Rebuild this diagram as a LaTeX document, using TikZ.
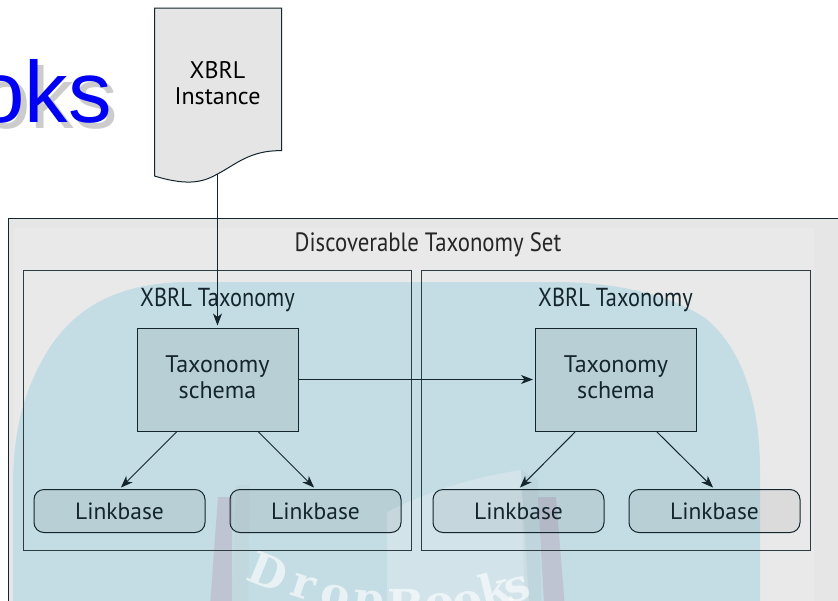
\documentclass[tikz,border=0pt]{standalone}
\usepackage{fontspec}
\setmainfont{PT Sans}
\newfontfamily\narrowfont[FakeStretch=0.86]{PT Sans}
\newfontfamily\titlefont{Liberation Sans}
\newfontfamily\markfont{DejaVu Serif}
\usetikzlibrary{arrows.meta,calc}
\definecolor{ink}{HTML}{14262C}
\definecolor{panel}{HTML}{E6E6E6}
\definecolor{panelin}{HTML}{E9E9E9}
\definecolor{teal}{HTML}{C4DCE4}
\definecolor{docfill}{HTML}{E5E5E5}
\definecolor{titleblue}{HTML}{0000F5}
\definecolor{titleshadow}{HTML}{CCCCCC}
\definecolor{barpink}{HTML}{B9A8C0}
\newcommand{\schemalines}{\parbox{150pt}{\centering\fontsize{24}{26}\selectfont Taxonomy\\schema\par\vspace{4pt}}}
\tikzset{
  wire/.style={draw=ink,line width=1pt},
  arrowline/.style={wire,-{Stealth[length=12pt,width=9pt,inset=3.5pt]},shorten >=2pt},
  groupbox/.style={draw=ink!90,line width=1pt},
  schemabox/.style={draw=ink,line width=1pt,fill=black,fill opacity=0.06,text opacity=1,minimum width=161pt,minimum height=103pt,inner sep=0pt,text=ink},
  linkbox/.style={draw=ink,line width=1pt,fill=black,fill opacity=0.06,text opacity=1,rounded corners=10pt,minimum width=171pt,minimum height=43pt,inner sep=0pt,text=ink,font=\fontsize{23.5}{26}\selectfont},
  headlabel/.style={text=ink,font=\narrowfont\fontsize{26}{28}\selectfont,inner sep=0pt},
  marklabel/.style={text=white,opacity=0.62,font=\markfont\bfseries\fontsize{44}{44}\selectfont,inner sep=0pt},
}
\begin{document}
\begin{tikzpicture}[x=1pt,y=-1pt]
\useasboundingbox (0,0) rectangle (838,600);
\clip (0,0) rectangle (838,600);
\fill[white] (0,0) rectangle (838,600);
% title fragment
\node[anchor=base east,inner sep=0pt,text=titleshadow,font=\titlefont\fontsize{87}{87}\selectfont] (titleshade) at (118,128) {oks};
\node[anchor=base east,inner sep=0pt,text=titleblue,font=\titlefont\fontsize{87}{87}\selectfont] (titletext) at (112,122) {oks};
% outer panel
\draw[fill=panel,draw=ink,line width=1pt] (8,218.5) rectangle (860,620);
\fill[panelin] (14,228) rectangle (814,620);
% watermark
\fill[teal] (13,620) -- (13,480) .. controls (14,430) and (23,390) .. (50,347)
  .. controls (75,310) and (115,282) .. (190,282) -- (560,282)
  .. controls (620,283) and (670,295) .. (705,318)
  .. controls (745,350) and (760,410) .. (760,470) -- (760,620) -- cycle;
\fill[white,opacity=0.25] (387,620) -- (387,512) .. controls (430,490) and (480,476) .. (521,470) -- (530,620) -- cycle;
\fill[black!40,opacity=0.06] (232,620) -- (236,485) -- (250,485) -- (248,620) -- cycle;
\fill[black!40,opacity=0.08] (521,470) -- (538,480) -- (542,620) -- (525,620) -- cycle;
\fill[barpink,opacity=0.45] (218,497) -- (232,497) -- (232,620) -- (209,620) -- cycle;
\fill[barpink,opacity=0.45] (538,497) -- (556,497) -- (566,620) -- (545,620) -- cycle;
\node[marklabel,rotate=-22] (m1) at (268,572) {D};
\node[marklabel,rotate=-18] (m2) at (303,587) {r};
\node[marklabel,rotate=-12] (m3) at (335,597) {o};
\node[marklabel,rotate=-6] (m4) at (369,607) {p};
\node[marklabel,rotate=0] (m5) at (406,605) {B};
\node[marklabel,rotate=6] (m6) at (440,606) {o};
\node[marklabel,rotate=10] (m7) at (468,604) {o};
\node[marklabel,rotate=14] (m8) at (494,589) {k};
\node[marklabel,rotate=18] (m9) at (518,590) {s};
% document
\draw[fill=docfill,draw=ink,line width=1pt] (154.5,8) -- (281.5,8) -- (281.5,150.7)
  .. controls (250,150) and (235,165) .. (217.5,174) coordinate (docout)
  .. controls (205,181) and (190,187) .. (154.5,176) -- cycle;
\node[align=center,inner sep=0pt,text=black,font=\fontsize{24}{26}\selectfont] (doclabel) at (217.5,83) {XBRL\\Instance};
% groups
\draw[groupbox] (23.5,270.5) rectangle (411.5,550);
\draw[groupbox] (421.5,270.5) rectangle (810.5,550);
\node[text=black!85,font=\narrowfont\fontsize{26.5}{28}\selectfont,inner sep=0pt] (dtslabel) at (428,245) {Discoverable Taxonomy Set};
\node[headlabel] (tax1) at (217.5,299.5) {XBRL Taxonomy};
\node[headlabel] (tax2) at (615.5,299.5) {XBRL Taxonomy};
% schemas
\node[schemabox] (s1) at (217.5,379.5) {\schemalines};
\node[schemabox] (s2) at (616,379.5) {\schemalines};
% linkbases
\node[linkbox] (l1) at (119.5,511) {Linkbase};
\node[linkbox] (l2) at (315.5,511) {Linkbase};
\node[linkbox] (l3) at (518.5,511) {Linkbase};
\node[linkbox] (l4) at (714.5,511) {Linkbase};
% connectors
\draw[arrowline] (docout) -- (s1.north);
\draw[arrowline] (s1.east) -- (s2.west);
\draw[arrowline] ($(s1.south west)!.25!(s1.south east)$) -- (l1.north);
\draw[arrowline] ($(s1.south west)!.75!(s1.south east)$) -- (l2.north);
\draw[arrowline] ($(s2.south west)!.25!(s2.south east)$) -- (l3.north);
\draw[arrowline] ($(s2.south west)!.75!(s2.south east)$) -- (l4.north);
\end{tikzpicture}
\end{document}
